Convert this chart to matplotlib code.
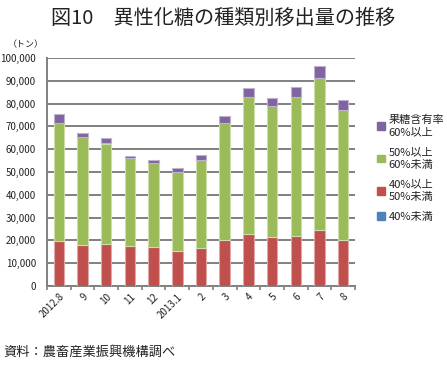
import matplotlib
matplotlib.use("Agg")
import matplotlib.pyplot as plt
from matplotlib.patches import Patch
import numpy as np

plt.rcParams['font.family'] = ['Noto Sans CJK JP', 'DejaVu Sans']

categories = ["2012.8", "9", "10", "11", "12", "2013.1", "2", "3", "4", "5", "6", "7", "8"]
# tonnes, per segment (bottom to top)
under40 = [200, 200, 200, 200, 200, 200, 200, 200, 200, 200, 200, 200, 200]
from40to50 = [19650, 17700, 18200, 17300, 16800, 15200, 16400, 19900, 22800, 21400, 21900, 24400, 19900]
from50to60 = [51550, 47400, 44100, 38450, 36800, 34400, 38650, 51300, 59800, 57300, 60850, 66700, 57200]
over60 = [4100, 1900, 2200, 1150, 1600, 1950, 2150, 3000, 4000, 3500, 4150, 5400, 4100]

yticks = [0, 10000, 20000, 30000, 40000, 50000, 60000, 70000, 80000, 90000, 100000]

series = [
    ("40%未満", under40, "#4F81BD", "#A7C0DE"),
    ("40%以上\n50%未満", from40to50, "#C0504D", "#DFA7A6"),
    ("50%以上\n60%未満", from50to60, "#9BBB59", "#CDDDAC"),
    ("果糖含有率\n60%以上", over60, "#8064A2", "#BFB1D0"),
]

fig = plt.figure(figsize=(4.47, 3.65), dpi=100)
ax = fig.add_axes([47/447, 79/365, 308/447, 228/365])

x = np.arange(len(categories))
bottom = np.zeros(len(categories))
handles = []
for label, vals, col, edge in series:
    v = np.array(vals, dtype=float)
    ax.bar(x, v, 0.44, bottom=bottom, color=col, edgecolor=edge, linewidth=0.8, zorder=3)
    bottom += v
    handles.append(Patch(facecolor=col, edgecolor=col, label=label))

ax.set_xlim(-0.5, len(categories) - 0.5)
ax.set_ylim(0, 100000)
ax.set_yticks(yticks)
ax.set_yticklabels([f"{t:,}" for t in yticks], fontsize=7, color="#222222")
ax.yaxis.grid(True, color="#808080", linewidth=1.4, zorder=0)
ax.set_axisbelow(True)
for s in ["top", "right"]:
    ax.spines[s].set_visible(False)
ax.spines["left"].set_color("#808080")
ax.spines["left"].set_linewidth(1.4)
ax.spines["bottom"].set_color("#808080")
ax.spines["bottom"].set_linewidth(1.4)
ax.tick_params(axis="y", length=0, pad=8)

ax.set_xticks(x)
ax.set_xticklabels(categories, rotation=45, ha="right", rotation_mode="anchor", fontsize=7, color="#222222")
ax.tick_params(axis="x", length=0, pad=4)
ax.set_xticks(np.arange(-0.5, len(categories) + 0.5, 1), minor=True)
ax.tick_params(axis="x", which="minor", length=3, color="#808080", width=1.2)

leg = fig.legend(handles=handles[::-1], loc="upper left", bbox_to_anchor=(373/447, 1 - 110/365),
                 frameon=False, fontsize=8, handlelength=0.7, handleheight=0.7,
                 handletextpad=0.3, labelspacing=0.85, borderaxespad=0)
for t in leg.get_texts():
    t.set_linespacing(1.35)
    t.set_color("#222222")

fig.text(0.5, 1 - 18/365, "図10　異性化糖の種類別移出量の推移", ha="center", va="center",
         fontsize=14.5, fontweight="normal", color="#222222")
fig.text(26/447, 1 - 45/365, "（トン）", ha="center", va="center", fontsize=6.5, color="#222222")
fig.text(3/447, 1 - 352/365, "資料：農畜産業振興機構調べ", ha="left", va="center", fontsize=9.5, color="#222222")

fig.savefig("out.png", dpi=100)
